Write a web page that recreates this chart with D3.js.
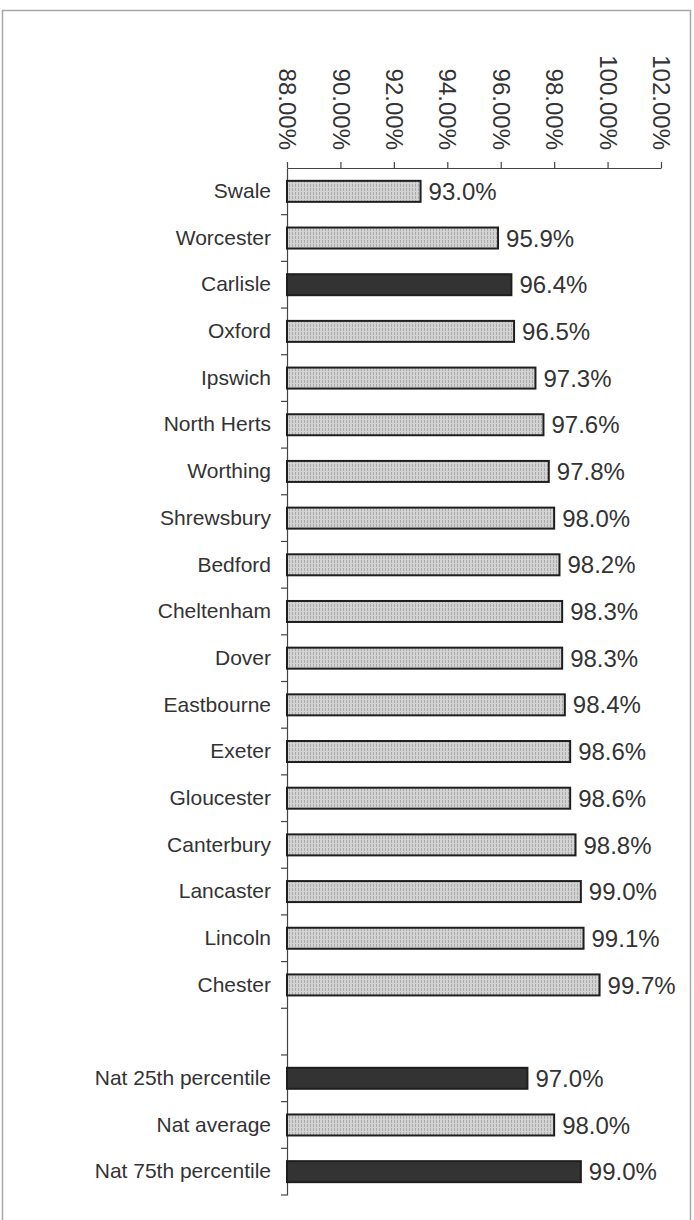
<!DOCTYPE html>
<html>
<head>
<meta charset="utf-8">
<script src="https://cdn.jsdelivr.net/npm/d3@7"></script>
<style>
  html, body { margin: 0; padding: 0; background: #fff; }
  svg { display: block; }
  text { font-family: "Liberation Sans", Arial, Helvetica, sans-serif; fill: #333; }
</style>
</head>
<body>
<svg id="chart" width="694" height="1220"></svg>
<script>
// ---- data ----
const categories = ["Swale", "Worcester", "Carlisle", "Oxford", "Ipswich", "North Herts", "Worthing",
  "Shrewsbury", "Bedford", "Cheltenham", "Dover", "Eastbourne", "Exeter", "Gloucester", "Canterbury",
  "Lancaster", "Lincoln", "Chester", "", "Nat 25th percentile", "Nat average", "Nat 75th percentile"];
const values = [93.0, 95.9, 96.4, 96.5, 97.3, 97.6, 97.8, 98.0, 98.2, 98.3, 98.3, 98.4, 98.6, 98.6,
  98.8, 99.0, 99.1, 99.7, null, 97.0, 98.0, 99.0];
const highlighted = ["Carlisle", "Nat 25th percentile", "Nat 75th percentile"];
const xTicks = [88, 90, 92, 94, 96, 98, 100, 102];

const rows = categories.map((c, i) => ({ key: i, name: c, value: values[i] }));

const svg = d3.select("#chart");

// frame
svg.append("rect")
  .attr("x", 2.5).attr("y", 10.5).attr("width", 688).attr("height", 1230)
  .attr("fill", "none").attr("stroke", "#a8a8a8").attr("stroke-width", 1.5);

// pattern for light bars
const defs = svg.append("defs");
const pat = defs.append("pattern").attr("id", "stipple")
  .attr("patternUnits", "userSpaceOnUse").attr("width", 3).attr("height", 4);
pat.append("rect").attr("width", 3).attr("height", 4).attr("fill", "#d2d2d2");
pat.append("rect").attr("x", 1).attr("width", 1).attr("height", 3).attr("fill", "#acacac");

const plotLeft = 287, plotRight = 661, plotTop = 168, plotBottom = 1195;

const x = d3.scaleLinear().domain([88, 102]).range([plotLeft, plotRight]);
const y = d3.scaleBand().domain(rows.map(d => d.key)).range([plotTop, plotBottom]).padding(0);
const barH = 21;

// top axis
const xAxis = d3.axisTop(x).tickValues(xTicks).tickSize(6).tickSizeOuter(0)
  .tickFormat(d => d.toFixed(2) + "%");
const gx = svg.append("g").attr("transform", `translate(0,${plotTop})`).call(xAxis);
gx.select(".domain").attr("stroke", "#444").attr("stroke-width", 1.2);
gx.selectAll(".tick line").attr("stroke", "#444").attr("stroke-width", 1.2);
gx.selectAll(".tick text")
  .attr("font-size", 24)
  .attr("fill", "#3a3a3a")
  .attr("text-anchor", "end")
  .attr("transform", "translate(0,-18) rotate(90)")
  .attr("x", 0).attr("y", 0).attr("dy", "0.35em");

// left axis (labels at band centers)
const yAxis = d3.axisLeft(y).tickSize(0).tickPadding(16).tickFormat(k => categories[k]);
const gy = svg.append("g").attr("transform", `translate(${plotLeft},0)`).call(yAxis);
gy.select(".domain").attr("stroke", "#444").attr("stroke-width", 1.2);
gy.selectAll(".tick text").attr("font-size", 21).attr("fill", "#2e2e2e");

// band boundary ticks
const bounds = rows.map(d => y(d.key)).concat([y(rows[rows.length - 1].key) + y.bandwidth()]);
svg.append("g").selectAll("line").data(bounds.slice(1)).join("line")
  .attr("x1", plotLeft - 6).attr("x2", plotLeft)
  .attr("y1", d => d).attr("y2", d => d)
  .attr("stroke", "#444").attr("stroke-width", 1.2);

// bars
const data = rows.filter(d => d.value !== null);
svg.append("g").selectAll("rect").data(data).join("rect")
  .attr("x", x(88))
  .attr("y", d => y(d.key) + (y.bandwidth() - barH) / 2)
  .attr("width", d => x(d.value) - x(88))
  .attr("height", barH)
  .attr("fill", d => highlighted.includes(d.name) ? "#333" : "url(#stipple)")
  .attr("stroke", "#1e1e1e")
  .attr("stroke-width", 2);

// value labels
svg.append("g").selectAll("text").data(data).join("text")
  .attr("x", d => x(d.value) + 8)
  .attr("y", d => y(d.key) + y.bandwidth() / 2)
  .attr("dy", "0.36em")
  .attr("font-size", 24)
  .text(d => d.value.toFixed(1) + "%");
</script>
</body>
</html>
